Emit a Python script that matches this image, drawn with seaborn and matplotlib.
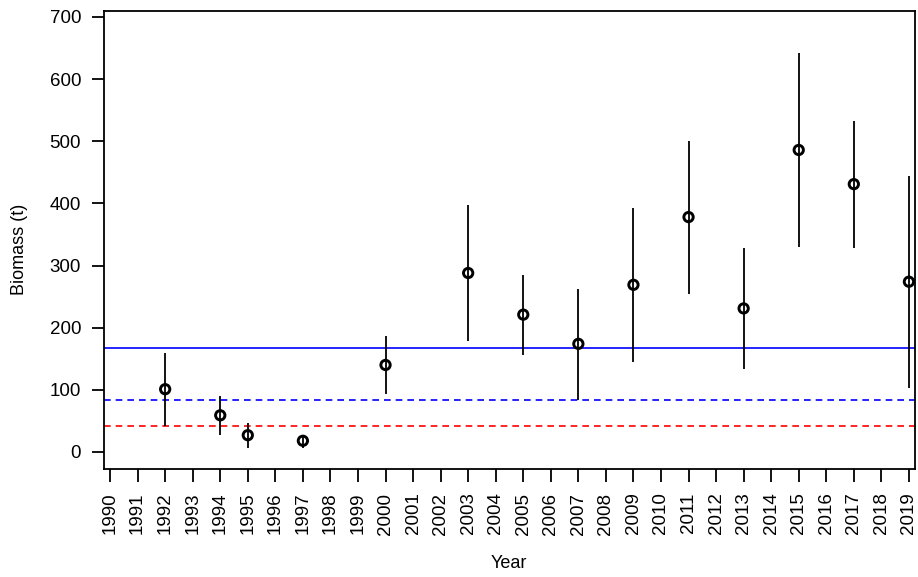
import matplotlib
matplotlib.use("Agg")
import matplotlib.pyplot as plt
import seaborn as sns
import pandas as pd

# ── data
years   = [1992, 1994, 1995, 1997, 2000, 2003, 2005, 2007, 2009, 2011, 2013, 2015, 2017, 2019]
biomass = [101, 59, 27, 18, 140, 288, 221, 174, 269, 378, 231, 486, 431, 274]
lower   = [41, 28, 6, 6, 93, 178, 156, 84, 144, 254, 134, 330, 328, 103]
upper   = [160, 90, 46, 25, 186, 398, 285, 263, 392, 500, 328, 642, 533, 444]
ref_solid_blue  = 167
ref_dashed_blue = 84
ref_dashed_red  = 41
xticks = list(range(1990, 2020))
yticks = [0, 100, 200, 300, 400, 500, 600, 700]

df = pd.DataFrame({"Year": years, "Biomass": biomass, "lo": lower, "hi": upper})

sns.set_style("ticks")
plt.rcParams["font.family"] = ["Liberation Sans", "DejaVu Sans"]

fig = plt.figure(figsize=(9.18, 5.77), dpi=100)
ax = fig.add_axes([0.1133, 0.1872, 0.8834, 0.7938])

# reference lines
ax.axhline(ref_solid_blue, color="blue", lw=1.2, zorder=1)
ax.axhline(ref_dashed_blue, color="blue", lw=1.2, ls=(0, (4, 3)), zorder=1)
ax.axhline(ref_dashed_red, color="red", lw=1.2, ls=(0, (4, 3)), zorder=1)

# error bars
ax.vlines(df["Year"], df["lo"], df["hi"], color="black", lw=1.3, zorder=2)

# points (open circles, bar visible through them)
sns.scatterplot(data=df, x="Year", y="Biomass", ax=ax, marker="o", s=45,
                facecolors="none", edgecolor="black", linewidth=2.1, zorder=3)

ax.set_xlim(1989.78, 2019.22)
ax.set_ylim(-27.4, 709.7)
ax.set_xticks(xticks)
ax.set_xticklabels([str(y) for y in xticks], rotation=90, fontsize=13.5)
ax.set_yticks(yticks)
ax.set_yticklabels([str(v) for v in yticks], fontsize=13.5)
ax.tick_params(axis="y", direction="out", length=8.5, width=1.3, colors="black", pad=8)
ax.tick_params(axis="x", direction="out", length=9, width=1.3, colors="black", pad=8)
for s in ax.spines.values():
    s.set_visible(True)
    s.set_linewidth(1.3)
    s.set_color("black")

ax.set_xlabel("Year", fontsize=13, color="black", va="center")
ax.set_ylabel("Biomass (t)", fontsize=13, color="black", va="center")
ax.xaxis.set_label_coords(0.4994, -0.2074)
ax.yaxis.set_label_coords(-0.1036, 0.479)

fig.savefig("out.png", dpi=100)
